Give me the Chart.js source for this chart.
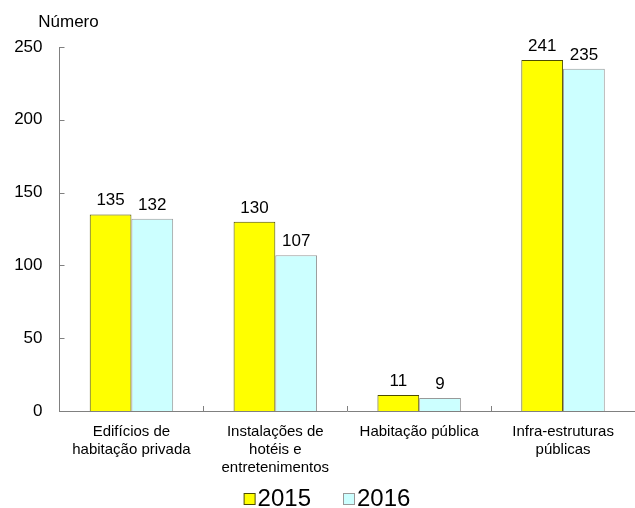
<!DOCTYPE html>
<html>
<head>
<meta charset="utf-8">
<script src="https://cdn.jsdelivr.net/npm/chart.js@4/dist/chart.umd.min.js"></script>
<style>
  html, body { margin: 0; padding: 0; background: #fff; }
  #wrap { width: 635px; height: 508px; }
</style>
</head>
<body>
<div id="wrap"><canvas id="myChart" width="635" height="508"></canvas></div>
<script>
const categories = [
  ['Edifícios de', 'habitação privada'],
  ['Instalações de', 'hotéis e', 'entretenimentos'],
  'Habitação pública',
  ['Infra-estruturas', 'públicas'],
]
const seriesNames = ['2015', '2016']
const values2015 = [135, 130, 11, 241]
const values2016 = [132, 107, 9, 235]
const yTicks = [0, 50, 100, 150, 200, 250]

const FONT = '"Liberation Sans", Arial, sans-serif'
const AXIS = '#808080'

// value labels, inward ticks, y title and the legend
const extras = {
  id: 'extras',
  afterDatasetsDraw(chart) {
    const ctx = chart.ctx
    const area = chart.chartArea
    const x = chart.scales.x
    const y = chart.scales.y
    ctx.save()
    ctx.strokeStyle = AXIS
    ctx.lineWidth = 1
    ctx.beginPath()
    yTicks.forEach(function (t) {
      const py = Math.round(y.getPixelForValue(t)) + 0.5
      if (t > 0) {
        ctx.moveTo(area.left, py)
        ctx.lineTo(area.left + 5, py)
      }
    })
    for (let i = 0; i < categories.length; i++) {
      const half = (x.getPixelForTick(1) - x.getPixelForTick(0)) / 2
      const px = Math.round(x.getPixelForTick(i) + half) + 0.5
      ctx.moveTo(px, area.bottom)
      ctx.lineTo(px, area.bottom - 5)
    }
    ctx.stroke()

    ctx.fillStyle = '#000'
    ctx.font = '17px ' + FONT
    ctx.textAlign = 'center'
    ctx.textBaseline = 'alphabetic'
    chart.data.datasets.forEach(function (ds, di) {
      const meta = chart.getDatasetMeta(di)
      meta.data.forEach(function (bar, i) {
        ctx.fillText(String(ds.data[i]), bar.x, bar.y - 9)
      })
    })

    ctx.font = '17px ' + FONT
    ctx.textBaseline = 'middle'
    ctx.fillText('Número', area.left + 9, area.top - 25)

    // legend
    ctx.font = '24px ' + FONT
    ctx.textAlign = 'left'
    const box = 11
    const widths = seriesNames.map(function (n) { return box + 3 + ctx.measureText(n).width })
    const gap = 32
    const total = widths[0] + widths[1] + gap
    let lx = 327 - total / 2
    const ly = 499
    chart.data.datasets.forEach(function (ds, di) {
      ctx.fillStyle = ds.backgroundColor
      ctx.fillRect(lx + 0.5, ly - box / 2, box, box)
      ctx.strokeStyle = ds.borderColor
      ctx.strokeRect(lx + 0.5, ly - box / 2, box, box)
      ctx.fillStyle = '#000'
      ctx.fillText(seriesNames[di], lx + box + 3, ly)
      lx += widths[di] + gap
    })
    ctx.restore()
  },
}

new Chart(document.getElementById('myChart').getContext('2d'), {
  type: 'bar',
  data: {
    labels: categories,
    datasets: [
      {
        label: seriesNames[0],
        data: values2015,
        backgroundColor: '#FFFF00',
        borderColor: '#4d4d00',
        borderWidth: 1,
        barPercentage: 1,
        categoryPercentage: 0.58,
      },
      {
        label: seriesNames[1],
        data: values2016,
        backgroundColor: '#CCFFFF',
        borderColor: '#999999',
        borderWidth: 1,
        barPercentage: 1,
        categoryPercentage: 0.58,
      },
    ],
  },
  options: {
    responsive: false,
    animation: false,
    devicePixelRatio: 1,
    layout: { padding: { top: 47, right: 0, bottom: 0, left: 0 } },
    plugins: {
      legend: { display: false },
      tooltip: { enabled: false },
    },
    scales: {
      x: {
        grid: { display: false, drawTicks: false },
        border: { display: true, color: AXIS, width: 1 },
        ticks: {
          color: '#000',
          font: { family: FONT, size: 15, lineHeight: 1.2 },
          padding: 12,
          maxRotation: 0,
          autoSkip: false,
        },
        afterFit: function (scale) { scale.height = 97 },
      },
      y: {
        min: 0,
        max: 250,
        grid: { display: false, drawTicks: false },
        border: { display: true, color: AXIS, width: 1 },
        ticks: {
          stepSize: 50,
          color: '#000',
          font: { family: FONT, size: 17 },
          padding: 17,
        },
        afterFit: function (scale) { scale.width = 59.5 },
      },
    },
  },
  plugins: [extras],
})
</script>
</body>
</html>
